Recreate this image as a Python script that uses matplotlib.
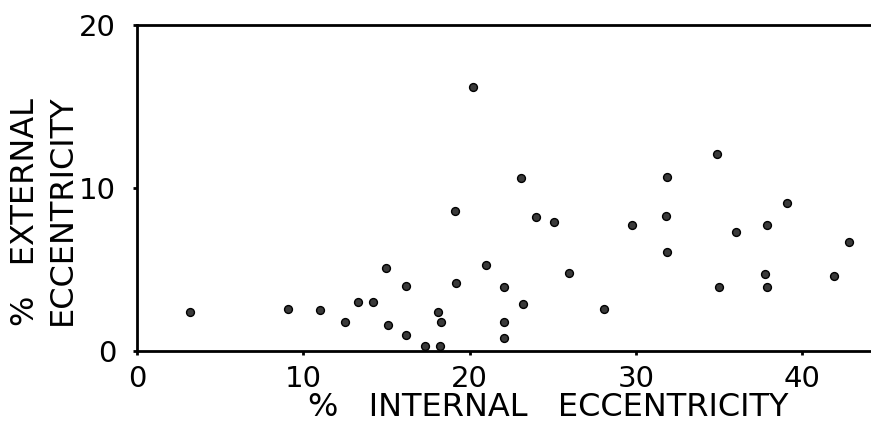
import matplotlib
matplotlib.use("Agg")
import matplotlib.pyplot as plt

# Data
internal_ecc = [3.2, 9.1, 11.0, 12.5, 13.3, 14.2, 15.0, 15.1, 16.2, 16.2,
                17.3, 18.1, 18.3, 18.2, 20.2, 19.1, 19.2, 21.0, 22.1, 22.1,
                22.1, 23.1, 23.2, 24.0, 25.1, 26.0, 28.1, 29.8, 31.9, 31.8,
                31.9, 34.9, 35.0, 36.0, 37.9, 37.8, 37.9, 39.1, 41.9, 42.8]
external_ecc = [2.4, 2.6, 2.5, 1.8, 3.0, 3.0, 5.1, 1.6, 4.0, 1.0,
                0.3, 2.4, 1.8, 0.3, 16.2, 8.6, 4.2, 5.3, 3.9, 1.8,
                0.8, 10.6, 2.9, 8.2, 7.9, 4.8, 2.6, 7.7, 10.7, 8.3,
                6.1, 12.1, 3.9, 7.3, 7.7, 4.7, 3.9, 9.1, 4.6, 6.7]
x_ticks = [0, 10, 20, 30, 40]
y_ticks = [0, 10, 20]
x_label = "%   INTERNAL   ECCENTRICITY"
y_label_1 = "%   EXTERNAL"
y_label_2 = "ECCENTRICITY"

fig = plt.figure(figsize=(8.71, 4.25), dpi=100)
ax = fig.add_axes([137/871, (425-351)/425, (871-137)/871, (351-25)/425])

ax.scatter(internal_ecc, external_ecc, s=32, color="#3a3a3a",
           edgecolors="black", linewidths=1.0, zorder=3, clip_on=False)

ax.set_xlim(0, 44.15)
ax.set_ylim(0, 20)
ax.set_xticks(x_ticks)
ax.set_yticks(y_ticks)
ax.set_xticklabels([str(v) for v in x_ticks])
ax.set_yticklabels([str(v) for v in y_ticks])
for s in ["left", "bottom", "top"]:
    ax.spines[s].set_linewidth(2.0)
ax.spines["right"].set_visible(False)
ax.tick_params(axis="x", direction="out", length=3, width=2, pad=7, labelsize=21)
ax.tick_params(axis="y", direction="out", length=3, width=2, pad=12, labelsize=21)

fig.text(548/871, 1 - 408/425, x_label, ha="center", va="center", fontsize=23)
fig.text(25/871, 1 - 212/425, y_label_1, ha="center", va="center",
         rotation=90, fontsize=23)
fig.text(62/871, 1 - 210/425, y_label_2, ha="center", va="center",
         rotation=90, fontsize=23)

fig.savefig("out.png", dpi=100)
